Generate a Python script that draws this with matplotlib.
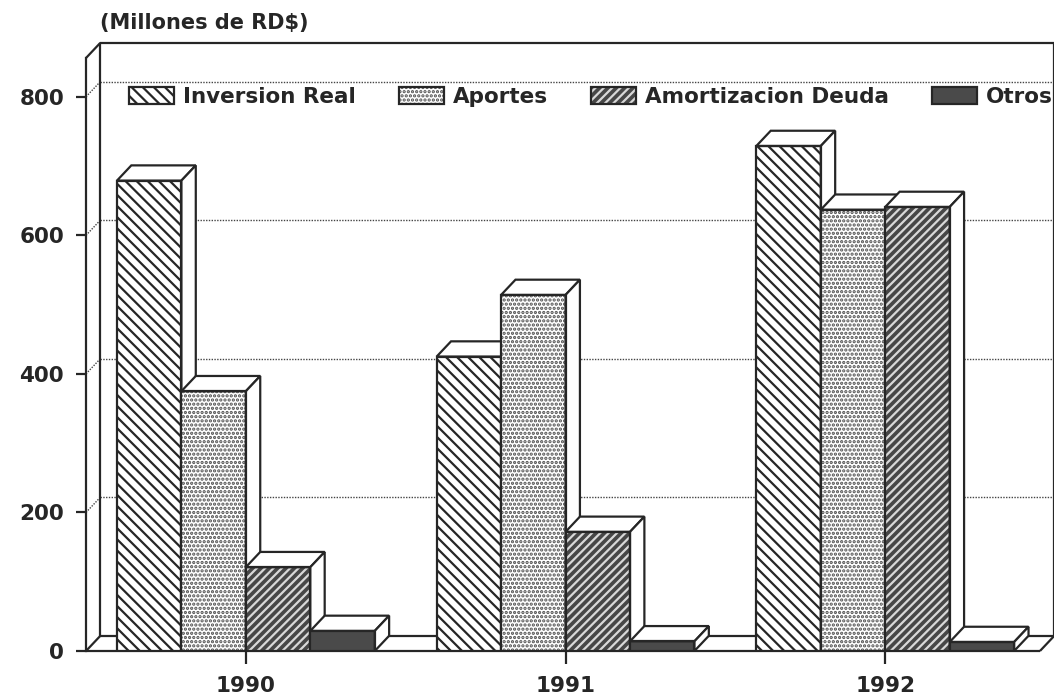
import numpy as np
import matplotlib.pyplot as plt
from matplotlib.patches import Patch, Polygon
from matplotlib.legend_handler import HandlerTuple

# data (millones de RD$)
years = ['1990', '1991', '1992']
series = ['Inversion Real', 'Aportes', 'Amortizacion Deuda', 'Otros']
inversion_real = [679, 425, 729]
aportes = [375, 514, 637]
amortizacion = [121, 172, 641]
otros = [29, 14, 13]
values = [inversion_real, aportes, amortizacion, otros]
yticks = [0, 200, 400, 600, 800]

ink = '#262626'
plt.rcParams['font.family'] = ['DejaVu Sans']
plt.rcParams['font.weight'] = 'bold'
plt.rcParams['hatch.linewidth'] = 1.6

fig = plt.figure(figsize=(10.54, 7), dpi=100)
ax = fig.add_axes([86 / 1054, 49 / 700, 1055 / 1054, 593 / 700])
ax.set_xlim(-0.5, 2.8)
ax.set_ylim(0, 856)

x = np.arange(len(years))
w = 0.2016          # bar width
dx, dy = 0.045, 22  # 3d depth offset
x_end = 2.484
top = 856

# fill, hatch, hatch colour per series
styles = [
    ('white', '\\\\\\', ink),
    ('white', '....', '#505050'),
    ('#474747', '////', '#d8d8d8'),
    ('#4a4a4a', None, ink),
]

# frame: walls and floor
frame = dict(color=ink, lw=1.6, clip_on=False, zorder=2, solid_capstyle='butt')
ax.plot([-0.5, -0.5 + dx], [top, top + dy], **frame)
ax.plot([-0.5 + dx, 2.8], [top + dy, top + dy], **frame)
ax.plot([-0.5 + dx, -0.5 + dx], [dy, top + dy], **frame)
ax.plot([-0.5, -0.5 + dx], [0, dy], **frame)
ax.plot([-0.5 + dx, x_end + dx], [dy, dy], **frame)
ax.plot([-0.5, x_end], [0, 0], **frame)
ax.plot([x_end, x_end + dx], [0, dy], **frame)
ax.plot([x_end + dx, x_end + dx], [dy, top + dy], **frame)

# dotted grid on back wall
for v in yticks[1:]:
    ax.plot([-0.5 + dx, x_end + dx], [v + dy, v + dy], ls=(0, (1, 1)), color='#444444',
            lw=1.0, zorder=1, clip_on=False)
    ax.plot([-0.5, -0.5 + dx], [v, v + dy], ls=(0, (1, 1)), color='#444444',
            lw=1.0, zorder=1, clip_on=False)

handles = []
for i, vals in enumerate(values):
    face, hatch, hcol = styles[i]
    xs = x + (i - 1.5) * w
    z = 3 + i
    ax.bar(xs, vals, w, color=face, edgecolor=hcol, lw=0, hatch=hatch, zorder=z)
    ax.bar(xs, vals, w, fill=False, edgecolor=ink, lw=1.6, zorder=z + 0.1)
    for xc, v in zip(xs, vals):
        x0, x1 = xc - w / 2, xc + w / 2
        ax.add_patch(Polygon([(x0, v), (x0 + dx, v + dy), (x1 + dx, v + dy), (x1, v)],
                             fc='white', ec=ink, lw=1.6, zorder=z, clip_on=False))
        ax.add_patch(Polygon([(x1, 0), (x1 + dx, dy), (x1 + dx, v + dy), (x1, v)],
                             fc='white', ec=ink, lw=1.6, zorder=z, clip_on=False))
    handles.append((Patch(facecolor=face, edgecolor=hcol, lw=0, hatch=hatch),
                    Patch(facecolor='none', edgecolor=ink, lw=1.6)))

for s in ['top', 'right', 'bottom']:
    ax.spines[s].set_visible(False)
ax.spines['left'].set_color(ink)
ax.spines['left'].set_linewidth(1.6)

ax.set_yticks(yticks)
ax.set_xticks(x)
ax.set_xticklabels(years)
ax.tick_params(axis='y', length=7.2, width=1.6, pad=8.6, labelsize=15.5, color=ink, labelcolor=ink)
ax.tick_params(axis='x', length=9.4, width=1.6, pad=8.6, labelsize=15.5, color=ink, labelcolor=ink)

ax.legend(handles, series, loc='center left', bbox_to_anchor=(129 / 1054, 1 - 97 / 700),
          bbox_transform=fig.transFigure, ncol=4, frameon=False, fontsize=15.5,
          handlelength=2.09, handleheight=0.88, handletextpad=0.42, columnspacing=2.0,
          borderpad=0, borderaxespad=0, labelcolor=ink,
          handler_map={tuple: HandlerTuple(ndivide=1, pad=0)})

fig.text(100 / 1054, 1 - 23 / 700, '(Millones de RD$)', fontsize=15, fontweight='bold',
         color=ink, ha='left', va='center')

fig.savefig('out.png', dpi=100)
